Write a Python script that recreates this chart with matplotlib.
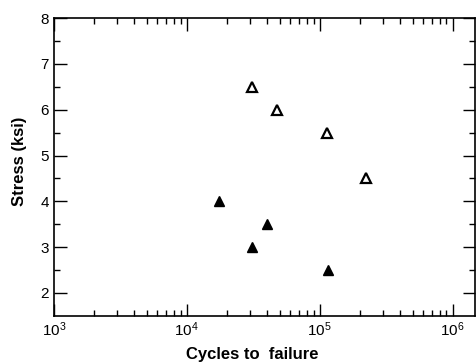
import numpy as np
import matplotlib.pyplot as plt
from matplotlib.ticker import LogLocator, FixedLocator, NullFormatter

plt.rcParams['font.family'] = ['Liberation Sans', 'DejaVu Sans']

# open triangles
open_cycles = [3.08e4, 4.8e4, 1.13e5, 2.25e5]
open_stress = [6.5, 6.0, 5.5, 4.5]
# filled triangles
filled_cycles = [1.74e4, 3.1e4, 4.0e4, 1.15e5]
filled_stress = [4.0, 3.0, 3.5, 2.5]

fig = plt.figure(figsize=(4.77, 3.63), dpi=100)
ax = fig.add_axes([0.113, 0.13, 0.883, 0.82])

ax.plot(open_cycles, open_stress, linestyle="none", marker="^", ms=7,
        mfc="white", mec="black", mew=1.6)
ax.plot(filled_cycles, filled_stress, linestyle="none", marker="^", ms=7,
        mfc="black", mec="black")

ax.set_xscale("log")
ax.set_xlim(1e3, 10**6.17)
ax.set_ylim(1.5, 8)
ax.xaxis.set_major_locator(LogLocator(base=10, numticks=10))
ax.xaxis.set_minor_locator(LogLocator(base=10, subs=np.arange(2, 10), numticks=20))
ax.xaxis.set_minor_formatter(NullFormatter())
ax.yaxis.set_major_locator(FixedLocator([2, 3, 4, 5, 6, 7, 8]))
ax.yaxis.set_minor_locator(FixedLocator([2.5, 3.5, 4.5, 5.5, 6.5, 7.5]))

ax.tick_params(which="both", direction="in", top=True, right=True, labelsize=11)
ax.tick_params(which="major", length=9, width=1)
ax.tick_params(which="minor", length=4, width=1)
for s in ax.spines.values():
    s.set_linewidth(1.2)

ax.set_xlabel("Cycles to  failure", fontsize=12, fontweight="bold")
ax.set_ylabel("Stress (ksi)", fontsize=12, fontweight="bold")
ax.xaxis.set_label_coords(0.47, -0.105)
ax.yaxis.set_label_coords(-0.064, 0.52)

fig.savefig("out.png", dpi=100)
